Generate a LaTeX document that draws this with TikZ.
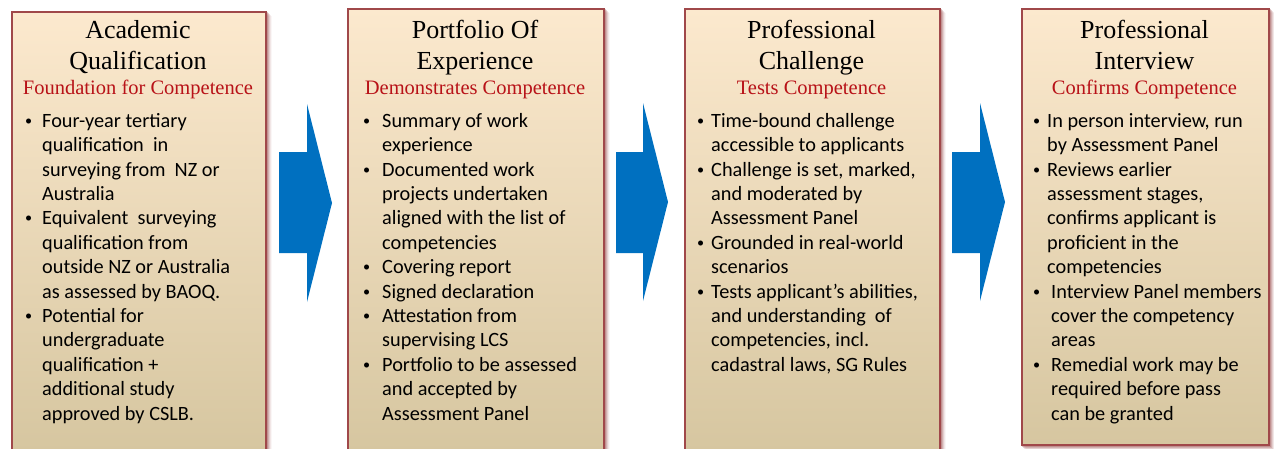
\documentclass[tikz,border=0pt]{standalone}
\usepackage{fontspec}
\usepackage{graphicx}
\setmainfont{Liberation Serif}
\newfontfamily\bodyfont{Carlito}
\definecolor{boxedge}{RGB}{160,72,74}
\definecolor{filltop}{RGB}{252,233,206}
\definecolor{fillmid}{RGB}{246,239,222}
\definecolor{fillbot}{RGB}{214,198,160}
\definecolor{subred}{RGB}{184,18,24}
\definecolor{arrowblue}{RGB}{0,112,192}
\definecolor{shadowred}{RGB}{150,70,70}
\newlength\bulw
\newcommand\bdot{\raisebox{2pt}{\scalebox{0.7}{•}}}
\newcommand\bl[1]{\strut\makebox[\bulw][l]{\bdot}#1}
\newcommand\cl[1]{\strut\hspace*{\bulw}#1}
\pgfdeclarelayer{background}
\pgfsetlayers{background,main}
\tikzset{
  stagebox/.style={draw=boxedge, line width=1.5pt, top color=filltop, middle color=fillmid, bottom color=fillbot, inner sep=0pt, anchor=north west},
  titletext/.style={align=center, anchor=north, inner sep=0pt, font=\fontsize{26}{31}\selectfont},
  subtext/.style={anchor=base, inner sep=0pt, text=subred, font=\fontsize{20.5}{23}\selectfont},
  bodytext/.style={align=left, anchor=north west, inner sep=0pt, font={\bodyfont\fontsize{20.3}{24.4}\selectfont\setlength\bulw{#1}}},
  flowarrow/.style={fill=arrowblue, draw=none}
}
\begin{document}
\begin{tikzpicture}[x=1pt,y=-1pt]
\useasboundingbox (0,0) rectangle (1274,448);
% boxes
\node[stagebox, minimum width=254pt, minimum height=440pt] (b1) at (11,11) {};
\node[stagebox, minimum width=256pt, minimum height=443pt] (b2) at (347,8) {};
\node[stagebox, minimum width=255pt, minimum height=443pt] (b3) at (684,8) {};
\node[stagebox, minimum width=247pt, minimum height=436pt] (b4) at (1021,8) {};
% shadows
\begin{pgfonlayer}{background}
\foreach \b in {b1,b2,b3,b4}{
  \foreach \k/\o in {1/0.30,2/0.22,3/0.15,4/0.09,5/0.05}{
    \fill[shadowred, opacity=\o] ([shift={(\k pt,-\k pt)}]\b.north west) rectangle ([shift={(\k pt,-\k pt)}]\b.south east);
  }
}
\end{pgfonlayer}
% titles
\node[titletext] (t1) at (138,16.3) {\strut Academic\\\strut Qualification};
\node[titletext] (t2) at (475,16.3) {\strut Portfolio Of\\\strut Experience};
\node[titletext] (t3) at (811.5,16.3) {\strut Professional\\\strut Challenge};
\node[titletext] (t4) at (1144.5,16.3) {\strut Professional\\\strut Interview};
\node[subtext] (s1) at (138,94) {Foundation for Competence};
\node[subtext] (s2) at (475,94) {Demonstrates Competence};
\node[subtext] (s3) at (811.5,94) {Tests Competence};
\node[subtext] (s4) at (1144.5,94) {Confirms Competence};
% bodies
\node[bodytext=17pt] (p1) at (25,110) {%
\bl{Four-year tertiary}\\
\cl{qualification~ in}\\
\cl{surveying from~ NZ or}\\
\cl{Australia}\\
\bl{Equivalent~ surveying}\\
\cl{qualification from}\\
\cl{outside NZ or Australia}\\
\cl{as assessed by BAOQ.}\\
\bl{Potential for}\\
\cl{undergraduate}\\
\cl{qualification +}\\
\cl{additional study}\\
\cl{approved by CSLB.}};
\node[bodytext=19pt] (p2) at (363,110) {%
\bl{Summary of work}\\
\cl{experience}\\
\bl{Documented work}\\
\cl{projects undertaken}\\
\cl{aligned with the list of}\\
\cl{competencies}\\
\bl{Covering report}\\
\bl{Signed declaration}\\
\bl{Attestation from}\\
\cl{supervising LCS}\\
\bl{Portfolio to be assessed}\\
\cl{and accepted by}\\
\cl{Assessment Panel}};
\node[bodytext=14pt] (p3) at (697,110) {%
\bl{Time-bound challenge}\\
\cl{accessible to applicants}\\
\bl{Challenge is set, marked,}\\
\cl{and moderated by}\\
\cl{Assessment Panel}\\
\bl{Grounded in real-world}\\
\cl{scenarios}\\
\bl{Tests applicant’s abilities,}\\
\cl{and understanding~ of}\\
\cl{competencies, incl.}\\
\cl{cadastral laws, SG Rules}};
\node[bodytext=14pt] (p4) at (1033,110) {%
\bl{In person interview, run}\\
\cl{by Assessment Panel}\\
\bl{Reviews earlier}\\
\cl{assessment stages,}\\
\cl{confirms applicant is}\\
\cl{proficient in the}\\
\cl{competencies}\\
\bl{\hspace*{4pt}Interview Panel members}\\
\cl{\hspace*{4pt}cover the competency}\\
\cl{\hspace*{4pt}areas}\\
\bl{\hspace*{4pt}Remedial work may be}\\
\cl{\hspace*{4pt}required before pass}\\
\cl{\hspace*{4pt}can be granted}};
% arrows
\fill[flowarrow] (279,152) -- (307,152) -- (307,104) -- (332,203) -- (307,302) -- (307,253) -- (279,253) -- cycle;
\fill[flowarrow] (616,152) -- (643,152) -- (643,103) -- (668,202) -- (643,301) -- (643,253) -- (616,253) -- cycle;
\fill[flowarrow] (952,152) -- (980,152) -- (980,103) -- (1005,202) -- (980,301) -- (980,253) -- (952,253) -- cycle;
\end{tikzpicture}
\end{document}
